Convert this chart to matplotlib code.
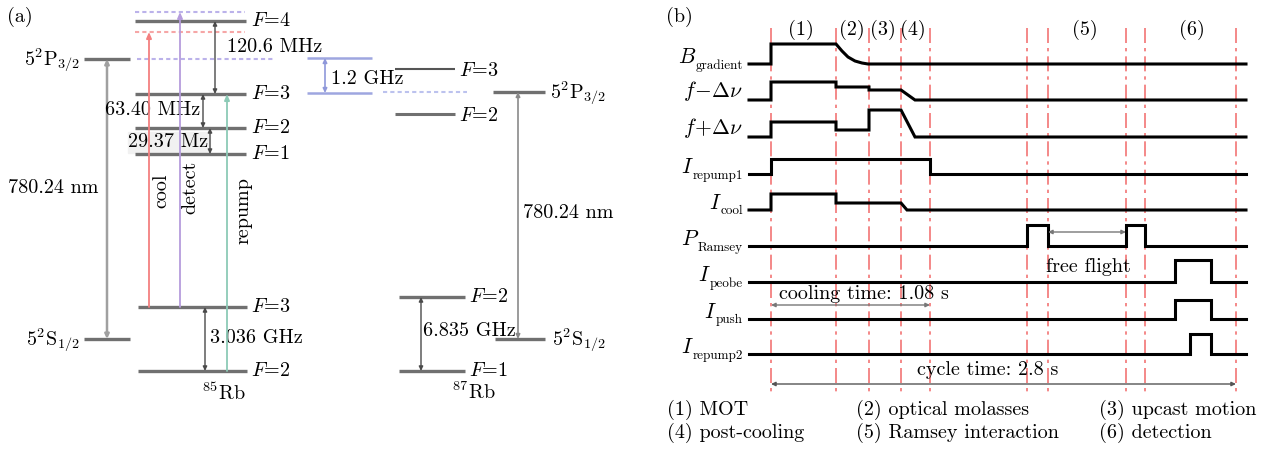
import numpy as np
import matplotlib.pyplot as plt
from matplotlib.patches import Rectangle

plt.rcParams['font.family'] = ['cmr10', 'DejaVu Serif']
plt.rcParams['mathtext.fontset'] = 'cm'
plt.rcParams['axes.formatter.use_mathtext'] = True

FS = 14.5

# ---------------- panel (a): Rb level scheme ----------------
rb85_exc_labels = ['4', '3', '2', '1']
rb85_exc_y = [21, 94, 128, 154]
rb85_gnd_labels = ['3', '2']
rb85_gnd_y = [307, 371]
rb87_exc_labels = ['3', '2']
rb87_exc_y = [69, 114]
rb87_gnd_labels = ['2', '1']
rb87_gnd_y = [297, 371]
fine_P_y = [59, 92]      # 85Rb, 87Rb
fine_S_y = [339, 339]
split85 = ['120.6 MHz', '63.40 MHz', '29.37 Mz', '3.036 GHz']
split87 = ['1.2 GHz', '6.835 GHz']
wavelength = '780.24 nm'
lasers = ['cool', 'detect', 'repump']
laser_colors = ['#f37f7f', '#b59cdc', '#8ccab6']

# ---------------- panel (b): timing sequence ----------------
phase_edges = [771, 836, 869, 901, 930, 1027, 1048, 1126, 1145, 1236]
phase_names = ['(1)', '(2)', '(3)', '(4)', '(5)', '(6)']
phase_x = [801, 852, 883, 913, 1085, 1192]
sig_main = [r'$B$', r'$f\!-\!\Delta\nu$', r'$f\!+\!\Delta\nu$', r'$I$', r'$I$',
            r'$P$', r'$I$', r'$I$', r'$I$']
sig_sub = ['gradient', '', '', 'repump1', 'cool', 'Ramsey', 'peobe', 'push', 'repump2']
sig_base = [64, 100, 137, 174, 210, 246, 282, 319, 354]
sig_t = [
    [749, 771, 771, 836, 842, 848, 855, 862, 868, 1246],
    [749, 771, 771, 836, 836, 869, 869, 901, 915, 1246],
    [749, 771, 771, 836, 836, 869, 869, 901, 915, 1246],
    [749, 771, 771, 930, 930, 1246],
    [749, 771, 771, 836, 836, 901, 907, 1246],
    [749, 1027, 1027, 1048, 1048, 1126, 1126, 1145, 1145, 1246],
    [749, 1175, 1175, 1211, 1211, 1246],
    [749, 1175, 1175, 1211, 1211, 1246],
    [749, 1190, 1190, 1211, 1211, 1246],
]
sig_v = [
    [0, 0, 20, 20, 13, 7, 3, 1, 0, 0],
    [0, 0, 18, 18, 13, 13, 10, 10, 0, 0],
    [0, 0, 15, 15, 7, 7, 27, 27, 0, 0],
    [0, 0, 15, 15, 0, 0],
    [0, 0, 16, 16, 7, 7, 0, 0],
    [0, 0, 21, 21, 0, 0, 21, 21, 0, 0],
    [0, 0, 22, 22, 0, 0],
    [0, 0, 19, 19, 0, 0],
    [0, 0, 20, 20, 0, 0],
]
legend_items = ['(1) MOT', '(2) optical molasses', '(3) upcast motion',
                '(4) post-cooling', '(5) Ramsey interaction', '(6) detection']

fig = plt.figure(figsize=(12.73, 4.5), dpi=100)
ax = fig.add_axes([0, 0, 1, 1])
ax.set_xlim(0, 1273)
ax.set_ylim(450, 0)
ax.axis('off')
renderer = fig.canvas.get_renderer()

LEV = '#707070'
ARR = '#4a4a4a'


def level(x0, x1, y, lw=2.4, c=LEV):
    ax.plot([x0, x1], [y, y], color=c, lw=lw, solid_capstyle='butt')


def darrow(x, y0, y1, c=ARR, lw=1.0):
    ax.annotate('', xy=(x, y1), xytext=(x, y0),
                arrowprops=dict(arrowstyle='<|-|>,head_length=0.25,head_width=0.12',
                                color=c, lw=lw, shrinkA=0, shrinkB=0))


def harrow(x0, x1, y, c):
    ax.annotate('', xy=(x1, y), xytext=(x0, y),
                arrowprops=dict(arrowstyle='<|-|>,head_length=0.25,head_width=0.12',
                                color=c, lw=1.0, shrinkA=0, shrinkB=0))


def uparrow(x, y0, y1, c, lw=1.3):
    ax.annotate('', xy=(x, y1), xytext=(x, y0),
                arrowprops=dict(arrowstyle='-|>,head_length=0.35,head_width=0.15',
                                color=c, lw=lw, shrinkA=0, shrinkB=0))


def flab(x, y, s):
    ax.text(x, y, r'$F$=' + s, fontsize=FS, va='center', ha='left')


ax.text(7, 17, '(a)', fontsize=FS, va='center')

# 85Rb excited hyperfine levels
for lab, y in zip(rb85_exc_labels, rb85_exc_y):
    level(135, 246, y)
    flab(251, y, lab)
# dotted detuning lines
ax.plot([135, 245], [12, 12], color='#bbb2ea', lw=1.5, ls=(0, (2, 1.5)))
ax.plot([135, 245], [32, 32], color='#f6a6a6', lw=1.5, ls=(0, (2, 1.5)))
ax.plot([137, 275], [fine_P_y[0], fine_P_y[0]], color='#bbb2ea', lw=1.5, ls=(0, (2, 1.5)))

# ground levels 85Rb
for lab, y in zip(rb85_gnd_labels, rb85_gnd_y):
    level(138, 247, y)
    flab(251, y, lab)

# fine structure levels 85Rb
level(84, 130, fine_P_y[0])
level(84, 130, fine_S_y[0])
ax.text(80, fine_P_y[0] + 1, r'5$^2$P$_{3/2}$', fontsize=FS, ha='right', va='center')
ax.text(80, fine_S_y[0] + 1, r'5$^2$S$_{1/2}$', fontsize=FS, ha='right', va='center')
darrow(107, fine_S_y[0], fine_P_y[0], c='#a0a0a0', lw=1.8)
ax.text(8, 188, wavelength, fontsize=FS, va='center')

# hyperfine splittings 85Rb
darrow(215, rb85_exc_y[1], rb85_exc_y[0])
ax.text(227, 47, split85[0], fontsize=FS, va='center')
darrow(203, rb85_exc_y[2], rb85_exc_y[1])
ax.text(200, 110, split85[1], fontsize=FS, va='center', ha='right')
ax.add_patch(Rectangle((128, 132), 82, 21, color='#f1f1f1', zorder=0))
darrow(210, rb85_exc_y[3], rb85_exc_y[2])
ax.text(128, 142, split85[2], fontsize=FS, va='center')
darrow(205, rb85_gnd_y[1], rb85_gnd_y[0])
ax.text(210, 338, split85[3], fontsize=FS, va='center')
ax.text(224, 393, r'$^{85}$Rb', fontsize=FS, va='center', ha='center')

# laser transitions
uparrow(149, rb85_gnd_y[0], 32, laser_colors[0])
uparrow(180, rb85_gnd_y[0], 12, laser_colors[1])
uparrow(227, rb85_gnd_y[1], rb85_exc_y[1], laser_colors[2])
ax.text(161, 191, lasers[0], fontsize=FS, rotation=90, ha='center', va='center')
ax.text(190, 187, lasers[1], fontsize=FS, rotation=90, ha='center', va='center')
ax.text(243, 211, lasers[2], fontsize=FS, rotation=90, ha='center', va='center')

# 1.2 GHz marker
level(307, 372, 58, lw=1.8, c='#9ea6e0')
level(307, 372, 93, lw=1.8, c='#9ea6e0')
darrow(325, 93, 58, c='#8f98da', lw=1.2)
ax.plot([383, 467], [92, 92], color='#bcc2ee', lw=1.5, ls=(0, (2, 1.5)))
ax.text(331, 79, split87[0], fontsize=FS, va='center')

# 87Rb levels
level(395, 455, rb87_exc_y[0], lw=1.5, c='#555555')
level(395, 455, rb87_exc_y[1], lw=2.2)
for lab, y in zip(rb87_exc_labels, rb87_exc_y):
    flab(459, y + 2, lab)
for lab, y in zip(rb87_gnd_labels, rb87_gnd_y):
    level(399, 465, y)
    flab(469, y, lab)
darrow(421, rb87_gnd_y[1], rb87_gnd_y[0])
ax.text(423, 331, split87[1], fontsize=FS, va='center')
ax.text(474, 392, r'$^{87}$Rb', fontsize=FS, va='center', ha='center')

level(493, 545, fine_P_y[1])
level(495, 545, fine_S_y[1])
ax.text(550, fine_P_y[1] + 1, r'5$^2$P$_{3/2}$', fontsize=FS, va='center')
ax.text(552, fine_S_y[1] + 1, r'5$^2$S$_{1/2}$', fontsize=FS, va='center')
darrow(518, fine_S_y[1], fine_P_y[1], c='#8a8a8a', lw=1.2)
ax.text(523, 213, wavelength, fontsize=FS, va='center')

# ---------------- panel (b) ----------------
ax.text(666, 17, '(b)', fontsize=FS, va='center')
for x in phase_edges:
    ax.plot([x, x], [28, 393], color='#f27474', lw=1.2, ls=(0, (9, 3, 2, 3)), zorder=1)
for name, x in zip(phase_names, phase_x):
    ax.text(x, 30, name, fontsize=FS, ha='center', va='center')

inv = ax.transData.inverted()
for main, sub, base, t, v in zip(sig_main, sig_sub, sig_base, sig_t, sig_v):
    ax.plot(t, base - np.array(v), color='black', lw=2.2, zorder=3,
            solid_joinstyle='miter')
    x_main = 743
    if sub:
        st = ax.text(743, base + 4.5, sub, fontsize=9.5, ha='right', va='baseline')
        bb = st.get_window_extent(renderer)
        x_main = inv.transform((bb.x0, bb.y0))[0] + 1
        ax.text(x_main, base - 1, main, fontsize=15.5, ha='right', va='baseline')
    else:
        ax.text(x_main, base - 3, main, fontsize=15.5, ha='right', va='baseline')

harrow(1048, 1126, 232, '#777777')
ax.text(1088, 267, 'free flight', fontsize=FS, ha='center', va='center')

harrow(771, 930, 305, '#777777')
ax.text(779, 294, 'cooling time: 1.08 s', fontsize=FS, va='center')

harrow(771, 1236, 384, '#555555')
ax.text(988, 370, 'cycle time: 2.8 s', fontsize=FS, ha='center', va='center')

leg_x = [667, 856, 1099]
leg_y = [410, 433]
for i, item in enumerate(legend_items):
    ax.text(leg_x[i % 3], leg_y[i // 3], item, fontsize=FS, va='center')

fig.savefig('out.png', dpi=100)
